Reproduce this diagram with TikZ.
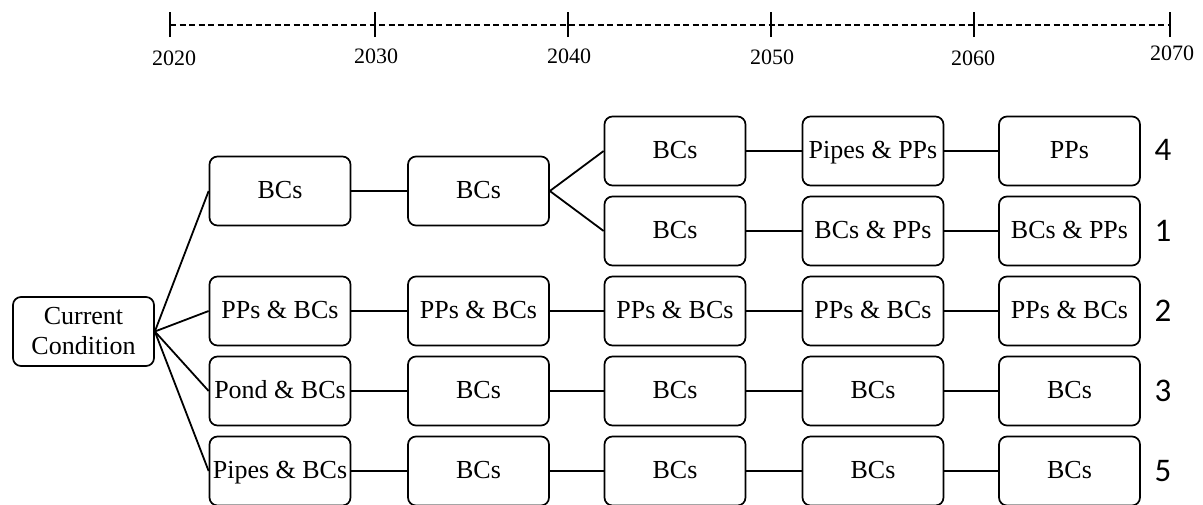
\documentclass[tikz,border=0pt]{standalone}
\usepackage{fontspec}
\setmainfont{Liberation Serif}
\newfontfamily\numfont{Carlito}
\begin{document}
\begin{tikzpicture}[x=1pt,y=-1pt,
  boxbase/.style={draw, line width=1.7pt, rounded corners=8pt, minimum width=141pt, minimum height=69pt, inner sep=0pt, align=center, font=\fontsize{26}{30}\selectfont},
  box/.style={boxbase, text height=19pt, text depth=5pt},
  yearlbl/.style={inner sep=0pt, font=\fontsize{22}{24}\selectfont},
  numlbl/.style={inner sep=0pt, font=\numfont\fontsize{33}{36}\selectfont},
  link/.style={line width=1.8pt},
  tick/.style={line width=1.6pt},
  timeline/.style={line width=1.3pt, dash pattern=on 6pt off 3.5pt}]
\useasboundingbox (0,0) rectangle (1203,504);

% timeline
\coordinate (t0) at (170,25);
\coordinate (t1) at (375,25);
\coordinate (t2) at (568,25);
\coordinate (t3) at (771,25);
\coordinate (t4) at (974,25);
\coordinate (t5) at (1170,25);
\draw[timeline] (t0) -- (t5);
\foreach \t in {t0,t1,t2,t3,t4,t5}{
  \draw[tick] ([yshift=-12pt]\t) -- ([yshift=13pt]\t);
}
\node[yearlbl] (y0) at (174,58) {2020};
\node[yearlbl] (y1) at (376,56) {2030};
\node[yearlbl] (y2) at (569,56) {2040};
\node[yearlbl] (y3) at (772,57) {2050};
\node[yearlbl] (y4) at (973,58) {2060};
\node[yearlbl] (y5) at (1172,53) {2070};

% nodes
\node[boxbase] (cc) at (83.5,331.5) {Current\\Condition};

\node[box] (a1) at (280,191) {BCs};
\node[box] (a2) at (478.5,191) {BCs};
\node[box] (d3) at (675,151) {BCs};
\node[box] (d4) at (873,151) {Pipes \& PPs};
\node[box] (d5) at (1069.5,151) {PPs};
\node[box] (e3) at (675,231) {BCs};
\node[box] (e4) at (873,231) {BCs \& PPs};
\node[box] (e5) at (1069.5,231) {BCs \& PPs};

\node[box] (b1) at (280,311) {PPs \& BCs};
\node[box] (b2) at (478.5,311) {PPs \& BCs};
\node[box] (b3) at (675,311) {PPs \& BCs};
\node[box] (b4) at (873,311) {PPs \& BCs};
\node[box] (b5) at (1069.5,311) {PPs \& BCs};

\node[box] (c1) at (280,391) {Pond \& BCs};
\node[box] (c2) at (478.5,391) {BCs};
\node[box] (c3) at (675,391) {BCs};
\node[box] (c4) at (873,391) {BCs};
\node[box] (c5) at (1069.5,391) {BCs};

\node[box] (f1) at (280,471) {Pipes \& BCs};
\node[box] (f2) at (478.5,471) {BCs};
\node[box] (f3) at (675,471) {BCs};
\node[box] (f4) at (873,471) {BCs};
\node[box] (f5) at (1069.5,471) {BCs};

% scenario numbers
\node[numlbl] (n4) at (1163,150) {4};
\node[numlbl] (n1) at (1163,231) {1};
\node[numlbl] (n2) at (1163,311) {2};
\node[numlbl] (n3) at (1163,391) {3};
\node[numlbl] (n5) at (1163,471) {5};

% connectors
\foreach \t in {a1,b1,c1,f1}{
  \draw[link] (cc.east) -- (\t.west);
}
\draw[link] (a1) -- (a2);
\draw[link] (a2.east) -- (d3.west);
\draw[link] (a2.east) -- (e3.west);
\draw[link] (d3) -- (d4);
\draw[link] (d4) -- (d5);
\draw[link] (e3) -- (e4);
\draw[link] (e4) -- (e5);
\foreach \r in {b,c,f}{
  \draw[link] (\r1) -- (\r2);
  \draw[link] (\r2) -- (\r3);
  \draw[link] (\r3) -- (\r4);
  \draw[link] (\r4) -- (\r5);
}
\end{tikzpicture}
\end{document}
